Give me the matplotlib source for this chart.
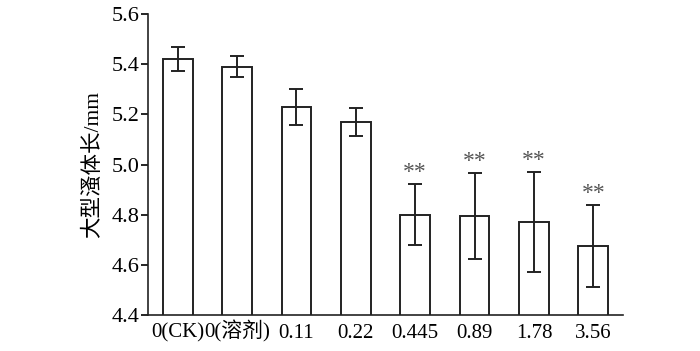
import matplotlib as mpl

mpl.use('Agg')

import matplotlib.pyplot as plt
import numpy as np

labels = ['0(CK)', '0(溶剂)', '0.11', '0.22', '0.445', '0.89', '1.78', '3.56']
means = [5.42, 5.39, 5.23, 5.17, 4.80, 4.795, 4.77, 4.675]
errors = [0.047, 0.042, 0.072, 0.057, 0.122, 0.17, 0.2, 0.163]
marks = ['', '', '', '', '**', '**', '**', '**']


def main():
    plt.rcParams['font.family'] = ['Liberation Serif', 'Noto Sans CJK SC']
    plt.rcParams['font.size'] = 16

    fig = plt.figure(figsize=(7, 3.51), dpi=100)
    ax = fig.add_axes([0.2114, 0.1026, 0.6786, 0.8574])

    x = np.arange(len(labels))
    ax.bar(x, means, width=0.5, color='white', edgecolor='#222222',
           linewidth=1.4)
    ax.errorbar(x, means, yerr=errors, fmt='none', ecolor='#222222',
                elinewidth=1.4, capsize=5, capthick=1.4)

    for xi, m, e, s in zip(x, means, errors, marks):
        if s:
            ax.annotate(s, (xi, m + e), xytext=(0, 1),
                        textcoords='offset points', ha='center',
                        va='bottom', color='#555555', fontsize=17)

    ax.set_xlim(-0.5, 7.5)
    ax.set_ylim(4.4, 5.6)
    ax.set_yticks(np.arange(4.4, 5.61, 0.2))
    ax.set_yticklabels(['%.1f' % v for v in np.arange(4.4, 5.61, 0.2)])
    ax.set_xticks(x)
    ax.set_xticklabels(labels, va='baseline', fontsize=15)
    ax.tick_params(axis='x', length=0, pad=16.5)
    ax.tick_params(axis='y', direction='out', length=5, width=1.2, pad=1)
    ax.set_ylabel('大型溞体长/mm', labelpad=6, fontsize=15.5)

    for side in ['top', 'right']:
        ax.spines[side].set_visible(False)
    for side in ['left', 'bottom']:
        ax.spines[side].set_linewidth(1.2)
        ax.spines[side].set_color('#222222')

    fig.savefig('out.png', dpi=100)


if __name__ == '__main__':
    main()
